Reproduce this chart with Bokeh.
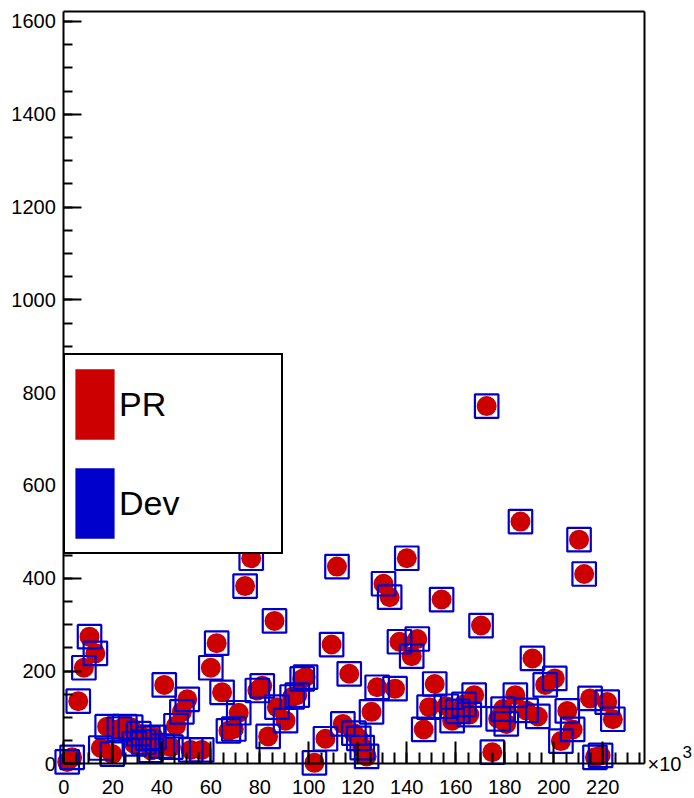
from bokeh.plotting import figure
from bokeh.models import (Range1d, LinearAxis, SingleIntervalTicker, FixedTicker,
                          Legend, LegendItem, Label)
from bokeh.embed import file_html
from bokeh.resources import INLINE

# ---- data (x in units of 10^3) ----
pr_x = [1.4, 3.4, 5.9, 8.2, 10.5, 12.9, 15.1, 17.7, 19.8, 22.7, 24.9, 27.3, 28.8, 30.6,
        32.6, 34.3, 35.6, 36.8, 40.2, 41.0, 43.7, 45.8, 48.2, 50.4, 51.8, 56.3, 60.0,
        62.4, 64.6, 67.2, 69.4, 71.4, 74.0, 76.5, 79.0, 81.0, 83.4, 86.0, 87.0, 90.5,
        93.2, 95.3, 97.3, 98.7, 102.3, 106.8, 109.3, 111.5, 113.9, 116.5, 118.4, 120.4,
        121.8, 123.6, 125.6, 127.9, 130.5, 133.0, 135.2, 137.0, 140.0, 142.0, 144.3,
        146.9, 149.1, 151.4, 154.2, 156.1, 158.5, 160.8, 163.3, 165.5, 167.5, 170.3,
        172.6, 174.9, 177.3, 179.3, 180.6, 184.3, 186.4, 188.7, 191.3, 193.5, 196.5,
        200.4, 202.9, 205.5, 207.7, 210.3, 212.4, 214.8, 216.8, 219.1, 221.8, 224.1]
pr_y = [4, 14, 135, 207, 274, 238, 34, 80, 21, 75, 80, 79, 43, 65,
        47, 55, 29, 57, 38, 170, 36, 82, 112, 139, 30, 30, 207,
        260, 154, 71, 75, 110, 383, 443, 158, 168, 59, 308, 122, 93,
        144, 148, 183, 187, 2, 54, 257, 425, 86, 194, 66, 55,
        35, 16, 112, 165, 388, 359, 162, 263, 443, 232, 269,
        74, 122, 172, 354, 124, 93, 113, 128, 106, 148, 298,
        771, 25, 97, 118, 86, 148, 522, 115, 227, 102, 170,
        184, 49, 114, 74, 483, 409, 141, 14, 18, 133, 96]
dev_x = list(pr_x)
dev_y = list(pr_y)

series_names = ["PR", "Dev"]
series_colors = ["#CC0000", "#0000CC"]

# axis extents (data units)
x_min, x_max = 0, 237
y_min, y_max = 0, 1621

W, H = 694, 798
px_per_x = 2.45
px_per_y = 0.464
x0_px, y0_px = 63.3, 763.3   # position of the origin on the canvas

p = figure(width=W, height=H, output_backend="svg", toolbar_location=None,
           x_range=Range1d(-x0_px / px_per_x, (W - x0_px) / px_per_x),
           y_range=Range1d(-(H - y0_px) / px_per_y, y0_px / px_per_y),
           x_axis_type=None, y_axis_type=None, min_border=0)
p.outline_line_color = None
p.background_fill_color = "white"
p.border_fill_color = "white"

font = "Liberation Sans"

def style_axis(ax, tick_major, tick_minor, standoff):
    ax.axis_line_width = 2
    ax.axis_line_color = "black"
    ax.major_tick_in = tick_major
    ax.major_tick_out = 0
    ax.minor_tick_in = tick_minor
    ax.minor_tick_out = 0
    ax.major_tick_line_width = 2
    ax.minor_tick_line_width = 2
    ax.major_tick_line_color = "black"
    ax.minor_tick_line_color = "black"
    ax.major_label_text_font = font
    ax.major_label_text_font_size = "20px"
    ax.major_label_text_color = "black"
    ax.major_label_standoff = standoff

xaxis = LinearAxis(ticker=SingleIntervalTicker(interval=20, num_minor_ticks=4),
                   fixed_location=0, bounds=(x_min, x_max))
style_axis(xaxis, 22, 11, 16)
p.add_layout(xaxis, "below")

yaxis = LinearAxis(ticker=SingleIntervalTicker(interval=200, num_minor_ticks=4),
                   fixed_location=0, bounds=(y_min, y_max))
style_axis(yaxis, 18, 9, 8)
p.add_layout(yaxis, "left")

# frame borders (top / right)
top_ax = LinearAxis(ticker=FixedTicker(ticks=[]), fixed_location=y_max, bounds=(x_min, x_max))
top_ax.axis_line_width = 2
top_ax.major_tick_line_color = None
top_ax.minor_tick_line_color = None
p.add_layout(top_ax, "above")
right_ax = LinearAxis(ticker=FixedTicker(ticks=[]), fixed_location=x_max, bounds=(y_min, y_max))
right_ax.axis_line_width = 2
right_ax.major_tick_line_color = None
right_ax.minor_tick_line_color = None
p.add_layout(right_ax, "right")

# data
p.scatter(pr_x, pr_y, marker="circle", size=20, fill_color=series_colors[0], line_color=None)
p.scatter(dev_x, dev_y, marker="square", size=23.5, fill_color=None,
          line_color=series_colors[1], line_width=2.2)

# legend swatches (glyphs with no drawable data)
nan = float("nan")
q_pr = p.quad(left=[nan], right=[nan], top=[nan], bottom=[nan],
              fill_color=series_colors[0], line_color=None)
q_dev = p.quad(left=[nan], right=[nan], top=[nan], bottom=[nan],
               fill_color=series_colors[1], line_color=None)
legend = Legend(items=[LegendItem(label=series_names[0], renderers=[q_pr], index=0),
                       LegendItem(label=series_names[1], renderers=[q_dev], index=0)],
                location=(63, H - 554), orientation="vertical",
                border_line_color="black", border_line_width=2, border_line_alpha=1.0,
                background_fill_color="white", background_fill_alpha=1.0,
                padding=5, spacing=11, margin=0,
                glyph_width=49, glyph_height=88, label_standoff=0, label_width=157,
                label_text_font=font, label_text_font_size="34px", label_text_color="black")
p.add_layout(legend)

# x10^3 multiplier
p.add_layout(Label(x=x_max, y=0, text="\u00d710", x_offset=3, y_offset=0,
                   text_font=font, text_font_size="20px", text_baseline="alphabetic",
                   text_align="left", text_color="black"))
p.add_layout(Label(x=x_max, y=0, text="3", x_offset=38, y_offset=12,
                   text_font=font, text_font_size="17px", text_baseline="alphabetic",
                   text_align="left", text_color="black"))

open("out.html", "w").write(file_html(p, INLINE))
